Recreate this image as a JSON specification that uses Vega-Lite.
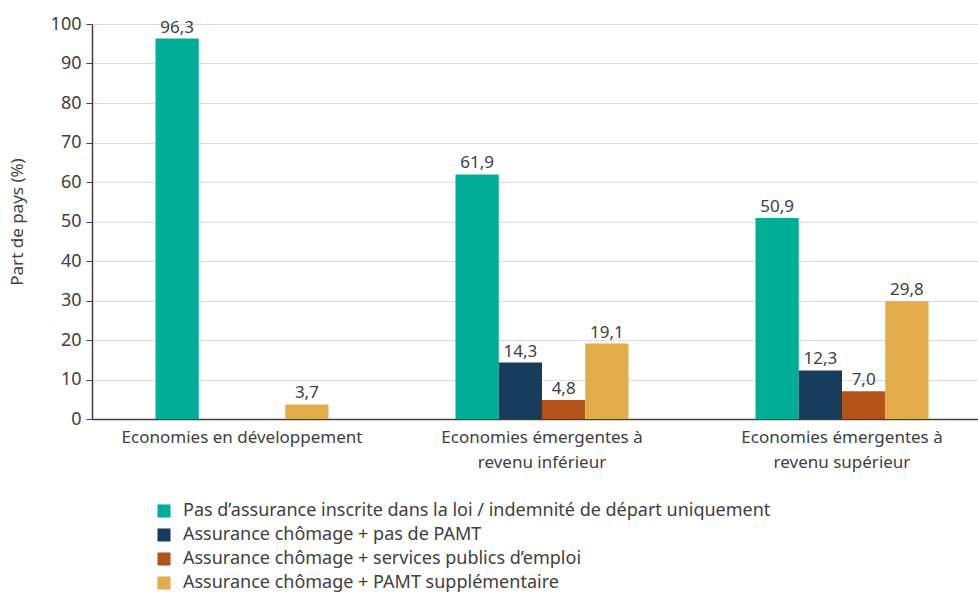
{
  "$schema": "https://vega.github.io/schema/vega-lite/v6.json",
  "width": 886,
  "height": 395,
  "autosize": {"type": "none"},
  "padding": {"left": 92, "top": 24, "right": 0, "bottom": 174},
  "background": "white",
  "config": {
    "font": "Noto Sans",
    "locale": {"number": {"decimal": ",", "thousands": " ", "grouping": [3], "currency": ["", " €"]}},
    "view": {"stroke": null},
    "axis": {"labelFont": "Noto Sans", "titleFont": "Noto Sans", "labelColor": "#404040", "titleColor": "#404040", "labelFontSize": 17, "titleFontSize": 17, "titleFontWeight": "normal", "labelLimit": 400}
  },
  "data": {"values": [
    {"groupe": "Economies en développement", "serie": "Pas d’assurance inscrite dans la loi / indemnité de départ uniquement", "valeur": 96.3},
    {"groupe": "Economies en développement", "serie": "Assurance chômage + PAMT supplémentaire", "valeur": 3.7},
    {"groupe": "Economies émergentes à revenu inférieur", "serie": "Pas d’assurance inscrite dans la loi / indemnité de départ uniquement", "valeur": 61.9},
    {"groupe": "Economies émergentes à revenu inférieur", "serie": "Assurance chômage + pas de PAMT", "valeur": 14.3},
    {"groupe": "Economies émergentes à revenu inférieur", "serie": "Assurance chômage + services publics d’emploi", "valeur": 4.8},
    {"groupe": "Economies émergentes à revenu inférieur", "serie": "Assurance chômage + PAMT supplémentaire", "valeur": 19.1},
    {"groupe": "Economies émergentes à revenu supérieur", "serie": "Pas d’assurance inscrite dans la loi / indemnité de départ uniquement", "valeur": 50.9},
    {"groupe": "Economies émergentes à revenu supérieur", "serie": "Assurance chômage + pas de PAMT", "valeur": 12.3},
    {"groupe": "Economies émergentes à revenu supérieur", "serie": "Assurance chômage + services publics d’emploi", "valeur": 7.0},
    {"groupe": "Economies émergentes à revenu supérieur", "serie": "Assurance chômage + PAMT supplémentaire", "valeur": 29.8}
  ]},
  "encoding": {
    "x": {
      "field": "groupe", "type": "nominal",
      "sort": ["Economies en développement", "Economies émergentes à revenu inférieur", "Economies émergentes à revenu supérieur"],
      "scale": {"range": [0, 900], "paddingInner": 0.4233, "paddingOuter": 0.21165},
      "axis": {
        "title": null, "labelAngle": 0, "ticks": false, "grid": false, "labelLimit": 400,
        "domainColor": "#404040", "domainWidth": 1.5, "labelPadding": 10, "labelLineHeight": 25,
        "labelExpr": "datum.label == 'Economies émergentes à revenu inférieur' ? ['Economies émergentes à', 'revenu inférieur'] : datum.label == 'Economies émergentes à revenu supérieur' ? ['Economies émergentes à', 'revenu supérieur'] : datum.label"
      }
    },
    "xOffset": {
      "field": "serie", "type": "nominal",
      "scale": {"domain": ["Pas d’assurance inscrite dans la loi / indemnité de départ uniquement", "Assurance chômage + pas de PAMT", "Assurance chômage + services publics d’emploi", "Assurance chômage + PAMT supplémentaire"], "paddingInner": 0, "paddingOuter": 0}
    },
    "y": {
      "field": "valeur", "type": "quantitative",
      "scale": {"domain": [0, 100], "nice": false},
      "axis": {
        "title": "Part de pays (%)", "values": [0, 10, 20, 30, 40, 50, 60, 70, 80, 90, 100], "labelOverlap": false,
        "gridColor": "#dcdcdc", "gridWidth": 1, "domainColor": "#404040", "domainWidth": 1.5,
        "tickColor": "#404040", "tickSize": 6, "labelPadding": 5, "titlePadding": 24, "labelFontSize": 18
      }
    }
  },
  "layer": [
    {
      "mark": {"type": "bar"},
      "encoding": {
        "color": {
          "field": "serie", "type": "nominal",
          "scale": {
            "domain": ["Pas d’assurance inscrite dans la loi / indemnité de départ uniquement", "Assurance chômage + pas de PAMT", "Assurance chômage + services publics d’emploi", "Assurance chômage + PAMT supplémentaire"],
            "range": ["#00ad97", "#173c5c", "#b3531a", "#e3ad4b"]
          },
          "legend": {
            "title": null, "orient": "none", "legendX": 63, "legendY": 478, "direction": "vertical",
            "symbolType": "square", "symbolSize": 170, "symbolStrokeWidth": 0,
            "labelFontSize": 18, "labelColor": "#404040", "rowPadding": 6, "labelOffset": 10, "labelLimit": 800
          }
        }
      }
    },
    {
      "mark": {"type": "text", "dy": -11, "fontSize": 17, "color": "#404040", "font": "Noto Sans"},
      "encoding": {
        "text": {"field": "valeur", "type": "quantitative", "format": ".1f"}
      }
    }
  ]
}
